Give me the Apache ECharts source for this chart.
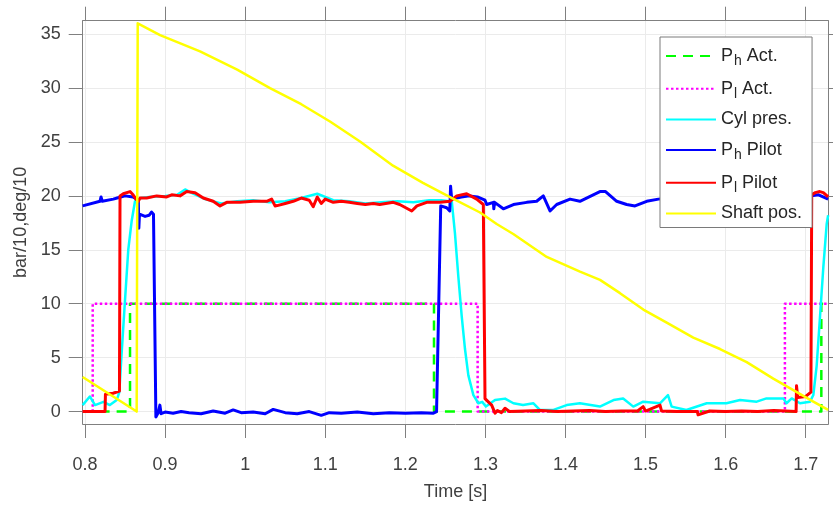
<!DOCTYPE html>
<html><head><meta charset="utf-8">
<script src="https://cdn.jsdelivr.net/npm/echarts@6/dist/echarts.min.js"></script>
<style>html,body{margin:0;padding:0;background:#fff}#c{width:833px;height:506px}</style>
</head><body><div id="c"></div>
<script>
// ---- data (time [s], value) ----
const phActT = [0.797, 0.8562, 0.8562, 1.2358, 1.2358, 1.7195, 1.7195, 1.728];
const phActV = [0, 0, 10, 10, 0, 0, 10, 10];

const plActT = [0.797, 0.8096, 0.8096, 1.2903, 1.2903, 1.674, 1.674, 1.728];
const plActV = [0, 0, 10, 10, 0, 0, 10, 10];

const cylT = [0.797, 0.806, 0.8125, 0.823, 0.831, 0.8396, 0.8428, 0.8458, 0.850, 0.854, 0.8583, 0.8624,
  0.87, 0.88, 0.90, 0.915, 0.925, 0.935, 0.95, 0.97, 0.99, 1.01, 1.03, 1.05, 1.07, 1.09, 1.11, 1.13, 1.15,
  1.17, 1.19, 1.21, 1.23, 1.245, 1.255, 1.258, 1.262, 1.2662, 1.2704, 1.2745, 1.2787, 1.285, 1.2912, 1.296,
  1.3006, 1.312, 1.3245, 1.335, 1.347, 1.36, 1.368, 1.385, 1.4015, 1.418, 1.443, 1.46, 1.472, 1.4847, 1.497,
  1.518, 1.528, 1.5326, 1.551, 1.5764, 1.601, 1.618, 1.6388, 1.651, 1.672, 1.676, 1.6825, 1.6929, 1.7054,
  1.7095, 1.7137, 1.7179, 1.722, 1.7262, 1.728];
const cylV = [0.6, 1.4, 0.6, 0.9, 0.6, 1.07, 1.8, 5.5, 10.4, 15.0, 17.7, 19.5,
  19.8, 19.9, 20.0, 20.1, 20.6, 20.2, 19.7, 19.3, 19.5, 19.6, 19.4, 19.5, 19.8, 20.2, 19.6, 19.5, 19.3,
  19.4, 19.5, 19.4, 19.6, 19.6, 19.5, 19.5, 16.5, 12.5, 8.85, 5.8, 3.36, 1.53, 0.77, 0.9,
  0.46, 1.07, 1.2, 0.77, 0.6, 0.77, 0.15, 0.15, 0.6, 0.77, 0.46, 1.07, 1.22, 0.46, 0.92,
  0.77, 1.53, 0.46, 0.15, 0.77, 0.77, 1.07, 0.92, 1.22, 1.22, 0.77, 1.22, 0.77, 0.92,
  1.53, 4.27, 8.85, 13.4, 17.4, 18.2];

const phPilotT = [0.797, 0.8187, 0.8200, 0.8215, 0.8353, 0.84, 0.85, 0.86, 0.8624, 0.8666, 0.8672, 0.868,
  0.875, 0.88, 0.883, 0.8855, 0.8885, 0.8915, 0.8935, 0.895, 0.90, 0.91, 0.92, 0.93, 0.945, 0.96, 0.975,
  0.985, 0.995, 1.01, 1.025, 1.035, 1.05, 1.065, 1.08, 1.095, 1.105, 1.12, 1.14, 1.16, 1.18, 1.20, 1.22,
  1.235, 1.239, 1.2442, 1.2516, 1.2555, 1.2565, 1.2579, 1.27, 1.28, 1.29, 1.2995, 1.3016, 1.31, 1.3105,
  1.3115, 1.3224, 1.335, 1.3516, 1.364, 1.3723, 1.3807, 1.389, 1.4057, 1.418, 1.443, 1.45, 1.464, 1.4764,
  1.4868, 1.5014, 1.516, 1.53, 1.56, 1.59, 1.62, 1.65, 1.68, 1.7054, 1.716, 1.728];
const phPilotV = [19.07, 19.5, 19.9, 19.5, 19.7, 19.8, 20.0, 19.9, 19.8, 19.6, 17.0, 18.3,
  18.1, 18.2, 18.5, 18.3, -0.5, -0.1, 0.6, -0.2, -0.05, -0.15, 0.0, -0.1, -0.2, 0.05, -0.15,
  0.15, -0.1, -0.05, -0.2, 0.2, -0.1, -0.2, 0.0, -0.35, -0.1, -0.15, -0.05, -0.2, -0.1, -0.15, -0.1,
  -0.15, 0.0, 19.07, 18.9, 18.6, 20.9, 19.7, 19.9, 20.0, 19.9, 19.6, 19.2, 19.4, 18.8,
  19.4, 18.8, 19.2, 19.4, 19.5, 20.0, 18.6, 19.2, 19.7, 19.5, 20.4, 20.4, 19.5, 19.2,
  19.07, 19.5, 19.7, 19.8, 19.9, 19.7, 19.9, 20.0, 19.8, 20.0, 20.1, 19.7];

const plPilotT = [0.797, 0.825, 0.8255, 0.835, 0.843, 0.8437, 0.8478, 0.8562, 0.86, 0.8637, 0.8666, 0.8686,
  0.877, 0.8895, 0.902, 0.9083, 0.9186, 0.927, 0.9374, 0.9477, 0.960, 0.9686, 0.977, 0.9936, 1.010, 1.0269,
  1.0331, 1.0373, 1.04, 1.05, 1.06, 1.07, 1.08, 1.085, 1.09, 1.095, 1.10, 1.11, 1.12, 1.13, 1.14, 1.15, 1.16,
  1.168, 1.185, 1.193, 1.208, 1.2145, 1.2267, 1.2433, 1.2558, 1.2642, 1.2766, 1.2891, 1.2974, 1.2995, 1.301,
  1.3078, 1.312, 1.315, 1.32, 1.3245, 1.33, 1.35, 1.37, 1.39, 1.41, 1.43, 1.45, 1.47, 1.49, 1.497, 1.50,
  1.518, 1.52, 1.54, 1.5646, 1.5656, 1.58, 1.60, 1.62, 1.64, 1.66, 1.675, 1.688, 1.6885, 1.690, 1.70,
  1.7065, 1.7075, 1.712, 1.7175, 1.722, 1.728];
const plPilotV = [0, 0, 1.6, 1.7, 1.9, 20.0, 20.2, 20.4, 20.1, 19.7, 19.5, 19.8,
  19.8, 20.0, 19.9, 20.1, 20.0, 20.4, 20.3, 19.8, 19.5, 19.07, 19.4, 19.4, 19.5, 19.5,
  19.7, 19.07, 19.1, 19.3, 19.5, 19.8, 19.6, 19.0, 19.9, 19.3, 19.7, 19.4, 19.5, 19.4, 19.3, 19.2, 19.3,
  19.2, 19.4, 19.2, 18.6, 19.07, 19.4, 19.4, 19.5, 20.0, 20.2, 19.7, 19.2, 1.2, 1.2,
  0.6, -0.15, 0.1, -0.1, 0.3, 0.0, 0.05, 0.1, 0.0, 0.05, 0.1, 0.0, 0.05, 0.05, 0.46, 0.05,
  0.6, 0.05, 0.0, 0.0, -0.3, 0.05, 0.0, 0.05, 0.0, 0.1, 0.05, 0.0, 2.4, 1.3, 1.4,
  1.8, 20.1, 20.3, 20.4, 20.3, 19.9];

const shaftT = [0.797, 0.8645, 0.8658, 0.8937, 0.9436, 0.99, 1.031, 1.07, 1.1059, 1.1434, 1.1846, 1.222,
  1.257, 1.2933, 1.3141, 1.3348, 1.3766, 1.4181, 1.4431, 1.4681, 1.4972, 1.5264, 1.5596, 1.593, 1.6263,
  1.6595, 1.6845, 1.7095, 1.728];
const shaftV = [3.2, 0, 36.0, 34.9, 33.4, 31.7, 30.0, 28.5, 26.9, 25.05, 22.8, 21.2,
  19.83, 18.46, 17.39, 16.47, 14.34, 12.97, 12.21, 10.98, 9.46, 8.24, 6.86, 5.8, 4.58,
  3.06, 1.99, 0.92, 0.15];

const yTicks = [0, 5, 10, 15, 20, 25, 30, 35];
const xTicks = [0.8, 0.9, 1, 1.1, 1.2, 1.3, 1.4, 1.5, 1.6, 1.7];

// ---- chart ----
const zip = (a, b) => a.map((x, i) => [x, b[i]]);
const FONT = 'Liberation Sans';
const AX = '#808080';
const TXT = '#404040';
const X0 = 0.7971, X1 = 1.7282, Y0 = -1.153, Y1 = 36.245;

function xAx(pos, show) {
  return {
    type: 'value', position: pos, min: X0, max: X1, splitNumber: 9,
    axisLine: { show: true, onZero: false, lineStyle: { color: AX, width: 1 } },
    axisTick: { show: true, inside: false, length: 14, lineStyle: { color: AX }, customValues: xTicks },
    axisLabel: { show: show, color: TXT, fontFamily: FONT, fontSize: 18, margin: 32,
      customValues: xTicks, formatter: v => String(+v.toFixed(1)) },
    splitLine: { show: pos === 'bottom', lineStyle: { color: '#ebebeb', width: 1 } },
    name: show ? 'Time [s]' : '', nameLocation: 'middle', nameGap: 59,
    nameTextStyle: { color: TXT, fontFamily: FONT, fontSize: 18 }
  };
}
function yAx(pos, show) {
  return {
    type: 'value', position: pos, min: Y0, max: Y1, splitNumber: 7,
    axisLine: { show: true, onZero: false, lineStyle: { color: AX, width: 1 } },
    axisTick: { show: true, inside: false, length: 14, lineStyle: { color: AX }, customValues: yTicks },
    axisLabel: { show: show, color: TXT, fontFamily: FONT, fontSize: 18, margin: 22, customValues: yTicks },
    splitLine: { show: pos === 'left', lineStyle: { color: '#ebebeb', width: 1 } },
    name: show ? 'bar/10,deg/10' : '', nameLocation: 'middle', nameGap: 50,
    nameTextStyle: { color: TXT, fontFamily: FONT, fontSize: 18 }
  };
}

const legendNames = {
  'P_h Act.': '{m|P}{s|h}{m| Act.}',
  'P_l Act.': '{m|P}{s|l}{m| Act.}',
  'Cyl pres.': '{m|Cyl pres.}',
  'P_h Pilot': '{m|P}{s|h}{m| Pilot}',
  'P_l Pilot': '{m|P}{s|l}{m| Pilot}',
  'Shaft pos.': '{m|Shaft pos.}'
};

function line(name, t, v, color, width, type) {
  return {
    name: name, type: 'line', data: zip(t, v), symbol: 'none', showSymbol: false,
    lineStyle: { color: color, width: width, type: type || 'solid', cap: 'butt', join: 'round' },
    itemStyle: { color: color },
    animation: false, silent: true, z: 2
  };
}

const chart = echarts.init(document.getElementById('c'), null, { renderer: 'canvas' });
chart.setOption({
  backgroundColor: '#ffffff',
  animation: false,
  grid: { left: 82.7, right: 4.7, top: 20.7, bottom: 76.7, containLabel: false },
  xAxis: [xAx('bottom', true), xAx('top', false)],
  yAxis: [yAx('left', true), yAx('right', false)],
  legend: {
    orient: 'vertical', left: 660, top: 37,
    itemWidth: 50, itemHeight: 14, itemGap: 8.7,
    padding: [7, 10, 4, 5],
    backgroundColor: '#ffffff', borderColor: '#7a7a7a', borderWidth: 1,
    data: Object.keys(legendNames),
    formatter: n => legendNames[n],
    itemStyle: { opacity: 0 },
    textStyle: {
      color: '#262626', fontFamily: FONT, fontSize: 18, lineHeight: 20,
      rich: {
        m: { fontFamily: FONT, fontSize: 18, color: '#262626', lineHeight: 20 },
        s: { fontFamily: FONT, fontSize: 14, color: '#262626', padding: [10, 0, 0, 1], lineHeight: 6 }
      }
    },
    z: 10
  },
  series: [
    line('P_h Act.', phActT, phActV, '#00ff00', 2.5, [10, 7]),
    line('P_l Act.', plActT, plActV, '#ff00ff', 2.5, [2.5, 2.5]),
    line('Cyl pres.', cylT, cylV, '#00ffff', 2.5),
    line('P_h Pilot', phPilotT, phPilotV, '#0000ff', 3),
    line('P_l Pilot', plPilotT, plPilotV, '#ff0000', 3),
    line('Shaft pos.', shaftT, shaftV, '#ffff00', 2.5)
  ]
});
</script>
</body></html>
